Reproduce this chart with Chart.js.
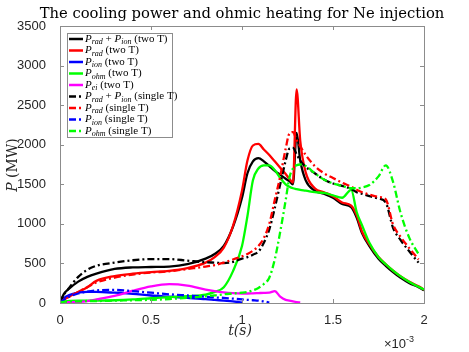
<!DOCTYPE html>
<html>
<head>
<meta charset="utf-8">
<script src="https://cdn.jsdelivr.net/npm/chart.js@4.4.0/dist/chart.umd.min.js"></script>
<style>
  html, body { margin: 0; padding: 0; background: #fff; }
  canvas { display: block; }
</style>
</head>
<body>
<canvas id="coolingChart" width="469" height="352"></canvas>
<script>
// time in units of 1e-3 s
const time = [0, 0.02, 0.05, 0.1, 0.15,
  0.2, 0.3, 0.4, 0.5, 0.6,
  0.7, 0.8, 0.85, 0.9, 0.95,
  1.0, 1.03, 1.06, 1.09, 1.12,
  1.15, 1.18, 1.21, 1.24, 1.26,
  1.28, 1.3, 1.32, 1.35, 1.4,
  1.45, 1.5, 1.55, 1.6, 1.63,
  1.66, 1.7, 1.75, 1.79, 1.83,
  1.87, 1.92, 1.97, 2.0];

// two temperature model (MW)
const radIonTwo = [0, 110, 180, 270, 330,
  370, 430, 450, 455, 460,
  490, 560, 620, 720, 960,
  1330, 1640, 1790, 1830, 1790,
  1730, 1670, 1620, 1570, 1540,
  1500, 2150, 1800, 1550, 1420,
  1380, 1330, 1250, 1210, 1080,
  880, 720, 560, 470, 390,
  320, 250, 200, 160];
const radTwo = [0, 40, 80, 140, 200,
  280, 340, 370, 390, 405,
  440, 510, 580, 700, 970,
  1420, 1800, 1990, 2010, 1940,
  1870, 1790, 1710, 1630, 1570,
  1520, 2700, 2050, 1650, 1450,
  1400, 1350, 1270, 1230, 1110,
  900, 740, 580, 490, 410,
  340, 270, 210, 170];
const ionTwo = [0, 60, 100, 130, 140,
  140, 130, 115, 95, 80,
  65, 50, 40, 30, 20,
  5, null, null, null, null,
  null, null, null, null, null,
  null, null, null, null, null,
  null, null, null, null, null,
  null, null, null, null, null,
  null, null, null, null];
const ohmTwo = [10, 20, 25, 30, 30,
  30, 35, 45, 60, 75,
  88, 105, 140, 200, 400,
  720, 1100, 1550, 1700, 1740,
  1740, 1680, 1580, 1500, 1470,
  1450, 1440, 1430, 1420, 1400,
  1390, 1360, 1330, 1430, 1150,
  980, 760, 580, 490, 410,
  340, 265, 205, 170];
const eiTwo = [0, 5, 10, 15, 25,
  45, 90, 155, 210, 238,
  220, 170, 150, 135, 125,
  120, 120, 122, 125, 128,
  130, 150, 80, 40, 30,
  20, 12, 8, null, null,
  null, null, null, null, null,
  null, null, null, null, null,
  null, null, null, null];

// single temperature model (MW)
const radIonSingle = [0, 100, 190, 330, 420,
  470, 510, 540, 555, 555,
  535, 515, 510, 505, 520,
  560, 580, 610, 650, 760,
  930, 1200, 1500, 1800, 1950,
  1960, 1880, 1800, 1720, 1640,
  1560, 1510, 1480, 1440, 1400,
  1380, 1350, 1320, 1270, 950,
  800, 650, 510, null];
const radSingle = [0, 40, 80, 140, 200,
  260, 320, 360, 385, 400,
  430, 460, 480, 510, 550,
  590, 620, 660, 720, 820,
  1000, 1300, 1600, 1950, 2140,
  2160, 2060, 1980, 1870, 1730,
  1640, 1580, 1520, 1470, 1430,
  1400, 1370, 1340, 1310, 990,
  840, 690, 550, null];
const ionSingle = [0, 40, 80, 120, 145,
  160, 165, 150, 130, 110,
  95, 80, 70, 65, 55,
  45, 40, 35, 30, 20,
  5, null, null, null, null,
  null, null, null, null, null,
  null, null, null, null, null,
  null, null, null, null, null,
  null, null, null, null];
const ohmSingle = [10, 15, 20, 20, 25,
  25, 30, 35, 40, 50,
  65, 85, 95, 110, 120,
  130, 140, 160, 190, 240,
  320, 550, 900, 1300, 1580,
  1700, 1740, 1750, 1730, 1640,
  1560, 1510, 1480, 1450, 1450,
  1460, 1490, 1600, 1740, 1530,
  1150, 820, 620, null];

const xTicks = [0, 0.5, 1, 1.5, 2];
const yTicks = [0, 500, 1000, 1500, 2000, 2500, 3000, 3500];

const dashDot = [7, 3, 2, 3];
const series = [
  { label: 'P_rad + P_ion (two T)', data: radIonTwo, color: '#000000', dash: [] },
  { label: 'P_rad (two T)', data: radTwo, color: '#ff0000', dash: [] },
  { label: 'P_ion (two T)', data: ionTwo, color: '#0000ff', dash: [] },
  { label: 'P_ohm (two T)', data: ohmTwo, color: '#00ff00', dash: [] },
  { label: 'P_ei (two T)', data: eiTwo, color: '#ff00ff', dash: [] },
  { label: 'P_rad + P_ion (single T)', data: radIonSingle, color: '#000000', dash: dashDot },
  { label: 'P_rad (single T)', data: radSingle, color: '#ff0000', dash: dashDot },
  { label: 'P_ion (single T)', data: ionSingle, color: '#0000ff', dash: dashDot },
  { label: 'P_ohm (single T)', data: ohmSingle, color: '#00ff00', dash: dashDot }
];

const axisColor = '#8c8c8c';
const serif = '"DejaVu Serif", "Liberation Serif", serif';
const legendSerif = '"Liberation Serif", serif';
const sans = '"Liberation Sans", Arial, sans-serif';

// draws text like "P_rad + P_ion (two T)" with italic P and subscripts
function drawRich(ctx, text, x, y, size, family) {
  const parts = text.split(/(P_\w+)/);
  ctx.textBaseline = 'middle';
  ctx.textAlign = 'left';
  for (const part of parts) {
    if (!part) continue;
    const m = part.match(/^P_(\w+)$/);
    if (m) {
      ctx.font = 'italic ' + size + 'px ' + family;
      ctx.fillText('P', x, y);
      x += ctx.measureText('P').width;
      ctx.font = 'italic ' + Math.round(size * 0.7) + 'px ' + family;
      ctx.fillText(m[1], x, y + size * 0.3);
      x += ctx.measureText(m[1]).width;
    } else {
      ctx.font = size + 'px ' + family;
      ctx.fillText(part, x, y);
      x += ctx.measureText(part).width;
    }
  }
}

const decorations = {
  id: 'decorations',
  afterDraw(chart) {
    const ctx = chart.ctx;
    const a = chart.chartArea;
    const xs = chart.scales.x, ys = chart.scales.y;
    ctx.save();

    // box and inward ticks
    ctx.strokeStyle = axisColor;
    ctx.lineWidth = 1;
    ctx.setLineDash([]);
    ctx.strokeRect(a.left + 0.5, a.top + 0.5, a.right - a.left, a.bottom - a.top);
    ctx.beginPath();
    for (const v of xTicks) {
      const px = Math.round(xs.getPixelForValue(v)) + 0.5;
      ctx.moveTo(px, a.bottom); ctx.lineTo(px, a.bottom - 4);
      ctx.moveTo(px, a.top); ctx.lineTo(px, a.top + 4);
    }
    for (const v of yTicks) {
      const py = Math.round(ys.getPixelForValue(v)) + 0.5;
      ctx.moveTo(a.left, py); ctx.lineTo(a.left + 4, py);
      ctx.moveTo(a.right, py); ctx.lineTo(a.right - 4, py);
    }
    ctx.stroke();

    // title, fitted to the reference width
    ctx.fillStyle = '#000';
    ctx.font = '15px ' + serif;
    const tw = ctx.measureText('The cooling power and ohmic heating for Ne injection').width;
    const ts = 15 * 405 / tw;
    ctx.font = ts + 'px ' + serif;
    ctx.textAlign = 'center';
    ctx.textBaseline = 'alphabetic';
    ctx.fillText('The cooling power and ohmic heating for Ne injection', 242, 18);

    // axis titles
    ctx.fillStyle = '#262626';
    ctx.font = 'italic 14px ' + serif;
    ctx.textBaseline = 'middle';
    ctx.fillText('t(s)', 240, 331);

    ctx.save();
    ctx.translate(13, 165);
    ctx.rotate(-Math.PI / 2);
    ctx.font = 'italic 14px ' + serif;
    const pw = ctx.measureText('P ').width;
    ctx.font = '14px ' + serif;
    const mw = ctx.measureText('(MW)').width;
    let sx = -(pw + mw) / 2;
    ctx.textAlign = 'left';
    ctx.font = 'italic 14px ' + serif;
    ctx.fillText('P ', sx, 0);
    ctx.font = '14px ' + serif;
    ctx.fillText('(MW)', sx + pw, 0);
    ctx.restore();

    // exponent
    ctx.textAlign = 'left';
    ctx.textBaseline = 'alphabetic';
    ctx.font = '13px ' + sans;
    ctx.fillText('\u00d710', 384, 348);
    const ew = ctx.measureText('\u00d710').width;
    ctx.font = '9px ' + sans;
    ctx.fillText('-3', 384 + ew, 342);

    // legend
    const lx = 67, ly = 33, lw = 105, lh = 104;
    ctx.fillStyle = '#fff';
    ctx.fillRect(lx, ly, lw, lh);
    ctx.strokeStyle = axisColor;
    ctx.strokeRect(lx + 0.5, ly + 0.5, lw, lh);
    chart.data.datasets.forEach((ds, i) => {
      const y = 39 + i * 11.5;
      ctx.strokeStyle = ds.borderColor;
      ctx.lineWidth = 2.5;
      ctx.setLineDash(ds.borderDash);
      ctx.beginPath();
      ctx.moveTo(69, y); ctx.lineTo(83, y);
      ctx.stroke();
      ctx.setLineDash([]);
      ctx.fillStyle = '#000';
      drawRich(ctx, ds.label, 85, y, 11, legendSerif);
    });
    ctx.restore();
  }
};

new Chart(document.getElementById('coolingChart'), {
  type: 'line',
  data: {
    labels: time,
    datasets: series.map((s, i) => ({
      label: s.label,
      data: s.data.map((v, k) => ({ x: time[k], y: v })),
      borderColor: s.color,
      backgroundColor: s.color,
      borderDash: s.dash,
      borderWidth: 2.3,
      pointRadius: 0,
      cubicInterpolationMode: 'monotone',
      spanGaps: false,
      order: series.length - i
    }))
  },
  options: {
    responsive: false,
    animation: false,
    devicePixelRatio: 1,
    layout: { padding: { left: 0, right: 45, top: 26, bottom: 0 } },
    plugins: {
      legend: { display: false },
      title: { display: false },
      tooltip: { enabled: false }
    },
    scales: {
      x: {
        type: 'linear',
        min: 0,
        max: 2,
        afterFit: s => { s.height = 49; },
        afterBuildTicks: s => { s.ticks = xTicks.map(v => ({ value: v })); },
        grid: { display: false },
        border: { display: false },
        ticks: {
          color: '#262626',
          font: { family: sans, size: 13 },
          padding: 2,
          maxRotation: 0,
          callback: v => String(v)
        }
      },
      y: {
        min: 0,
        max: 3500,
        afterFit: s => { s.width = 60; },
        afterBuildTicks: s => { s.ticks = yTicks.map(v => ({ value: v })); },
        grid: { display: false },
        border: { display: false },
        ticks: {
          color: '#262626',
          font: { family: sans, size: 13 },
          padding: 6,
          callback: v => String(v)
        }
      }
    }
  },
  plugins: [decorations]
});
</script>
</body>
</html>
